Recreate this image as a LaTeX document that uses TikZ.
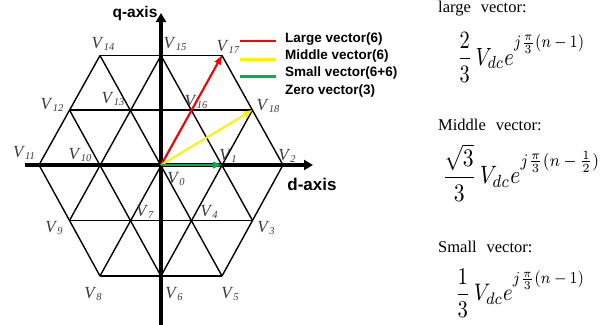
\documentclass[tikz,border=0pt]{standalone}
\usepackage{fontspec}
\setmainfont{Liberation Serif}
\newfontfamily\legfont{Liberation Sans}
\usepackage{amsmath,graphicx}
\usetikzlibrary{arrows.meta}
\definecolor{lgreen}{RGB}{0,176,80}
\definecolor{lblgray}{RGB}{60,60,60}
\newcommand{\vlab}[1]{\textit{V}\raisebox{-0.3ex}{\fontsize{10.5}{10.5}\selectfont\textit{#1}}}
\newcommand{\hiexp}[1]{\raisebox{0.3em}{$\scriptstyle #1$}}
\begin{document}
\begin{tikzpicture}[x=1pt,y=-1pt,
  lat/.style={line width=1.4pt, black},
  axisline/.style={line width=4pt, -{Triangle[length=9pt,width=10pt]}},
  vec/.style={line width=2pt, -{Triangle[length=9pt,width=6.5pt]}},
  vlabel/.style={font=\fontsize{17}{17}\selectfont, text=lblgray, inner sep=0pt},
  legline/.style={line width=2.6pt},
  legtext/.style={font=\legfont\bfseries\fontsize{13.5}{14}\selectfont, anchor=base west, inner sep=0pt},
  axlabel/.style={inner sep=0pt},
  heading/.style={font=\fontsize{16.5}{16.5}\selectfont, anchor=base west, inner sep=0pt},
  formula/.style={anchor=north west, inner sep=0pt}]
\useasboundingbox (0,0) rectangle (610,324);
% lattice points
\coordinate (V0) at (161,165);
\coordinate (V1) at (222,165);
\coordinate (V2) at (283,165);
\coordinate (V3) at (252.5,220.5);
\coordinate (V4) at (191.5,220.5);
\coordinate (V5) at (222,276);
\coordinate (V6) at (161,276);
\coordinate (V7) at (130.5,220.5);
\coordinate (V8) at (100,276);
\coordinate (V9) at (69.5,220.5);
\coordinate (V10) at (100,165);
\coordinate (V11) at (39,165);
\coordinate (V12) at (69.5,110);
\coordinate (V13) at (130.5,110);
\coordinate (V14) at (100,55.5);
\coordinate (V15) at (161,55.5);
\coordinate (V16) at (191.5,110);
\coordinate (V17) at (222,55.5);
\coordinate (V18) at (252.5,110);
% horizontal lines
\draw[lat] (V14) -- (V17);
\draw[lat] (V12) -- (V18);
\draw[lat] (V11) -- (V2);
\draw[lat] (V9) -- (V3);
\draw[lat] (V8) -- (V5);
% 60 degree lines
\draw[lat] (V11) -- (V14);
\draw[lat] (V9) -- (V15);
\draw[lat] (V8) -- (V17);
\draw[lat] (V6) -- (V18);
\draw[lat] (V5) -- (V2);
% -60 degree lines
\draw[lat] (V11) -- (V8);
\draw[lat] (V12) -- (V6);
\draw[lat] (V14) -- (V5);
\draw[lat] (V15) -- (V3);
\draw[lat] (V17) -- (V2);
% axes
\coordinate (dstart) at (25,165);
\coordinate (dend) at (313,165);
\coordinate (qstart) at (161,326);
\coordinate (qend) at (161,13);
\draw[axisline] (dstart) -- (dend);
\draw[axisline] (qstart) -- (qend);
\node[axlabel, font=\legfont\bfseries\fontsize{17}{17}\selectfont] (dlab) at (312,184) {d-axis};
\node[axlabel, font=\legfont\bfseries\fontsize{15.5}{16}\selectfont] (qlab) at (135,13) {q-axis};
% vectors
\draw[vec, red] (V0) -- (V17);
\draw[vec, yellow] (V0) -- (V18);
\draw[vec, lgreen] (V0) -- (V1);
% labels
\node[vlabel] (l0) at (176,179) {\vlab{0}};
\node[vlabel] (l1) at (228,156) {\vlab{1}};
\node[vlabel] (l2) at (287,156) {\vlab{2}};
\node[vlabel] (l3) at (266,228) {\vlab{3}};
\node[vlabel] (l4) at (209,212) {\vlab{4}};
\node[vlabel] (l5) at (230,294) {\vlab{5}};
\node[vlabel] (l6) at (174,294) {\vlab{6}};
\node[vlabel] (l7) at (145,212) {\vlab{7}};
\node[vlabel] (l8) at (93,294) {\vlab{8}};
\node[vlabel] (l9) at (54,228) {\vlab{9}};
\node[vlabel] (l10) at (80,155) {\vlab{10}};
\node[vlabel] (l11) at (24,153) {\vlab{11}};
\node[vlabel] (l12) at (52,105) {\vlab{12}};
\node[vlabel] (l13) at (113,99) {\vlab{13}};
\node[vlabel] (l14) at (103,44) {\vlab{14}};
\node[vlabel] (l15) at (175,44) {\vlab{15}};
\node[vlabel] (l16) at (196,102) {\vlab{16}};
\node[vlabel] (l17) at (228,47) {\vlab{17}};
\node[vlabel] (l18) at (268,106) {\vlab{18}};
% legend
\coordinate (ra) at (240,41);   \coordinate (rb) at (276,41);
\coordinate (ya) at (240,59.5); \coordinate (yb) at (276,59.5);
\coordinate (ga) at (240,76.5); \coordinate (gb) at (276,76.5);
\draw[legline, red] (ra) -- (rb);
\draw[legline, yellow] (ya) -- (yb);
\draw[legline, lgreen] (ga) -- (gb);
\node[legtext] (t1) at (285,42.5) {Large vector(6)};
\node[legtext] (t2) at (285,59.5) {Middle vector(6)};
\node[legtext] (t3) at (285,76.5) {Small vector(6+6)};
\node[legtext] (t4) at (285,94) {Zero vector(3)};
% formulas
\node[heading] (h1) at (438,12.5) {large\hspace{0.6em}vector:};
\node[formula] (f1) at (457,32) {\resizebox*{128pt}{50pt}{$\displaystyle \frac{2}{3}\,V_{dc}e^{\hiexp{j\frac{\pi}{3}(n\,-\,1)}}$}};
\node[heading] (h2) at (438,130) {Middle\hspace{0.6em}vector:};
\node[formula] (f2) at (442,144) {\resizebox*{158pt}{57pt}{$\displaystyle \frac{\sqrt{3}}{3}\,V_{dc}e^{\hiexp{j\frac{\pi}{3}(n\,-\,\frac{1}{2})}}$}};
\node[heading] (h3) at (438,252) {Small\hspace{0.6em}vector:};
\node[formula] (f3) at (455,269) {\resizebox*{130pt}{48pt}{$\displaystyle \frac{1}{3}\,V_{dc}e^{\hiexp{j\frac{\pi}{3}(n\,-\,1)}}$}};
\end{tikzpicture}
\end{document}
